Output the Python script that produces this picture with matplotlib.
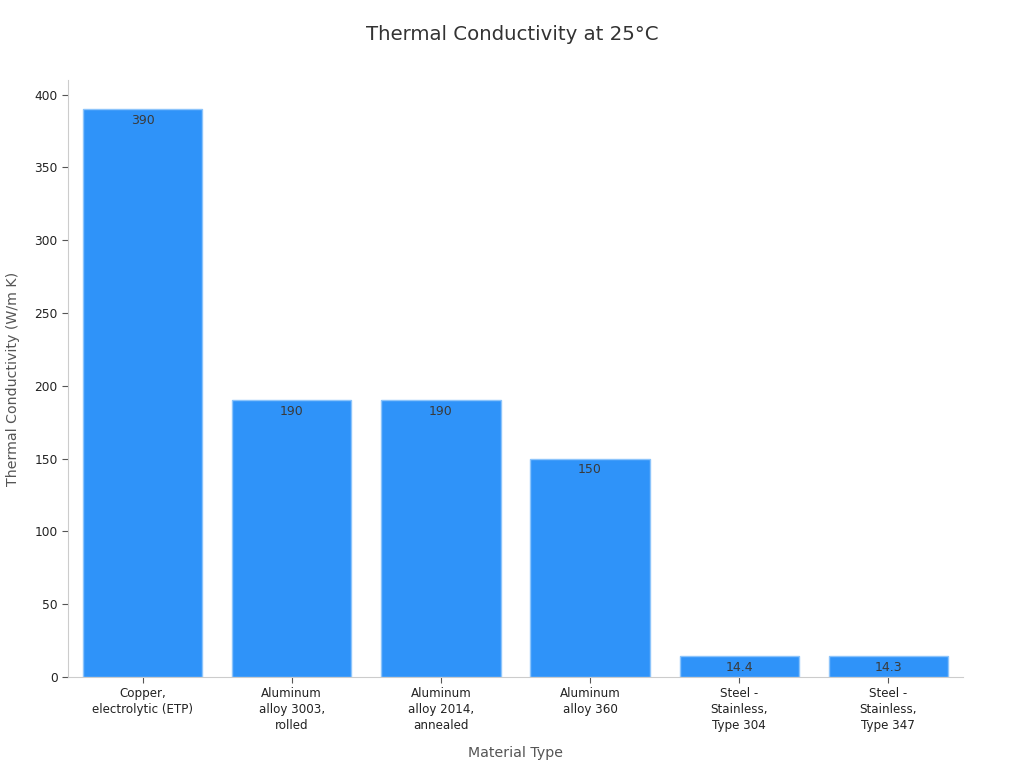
import matplotlib
matplotlib.use("Agg")
import matplotlib.pyplot as plt

categories = ["Copper,\nelectrolytic (ETP)", "Aluminum\nalloy 3003,\nrolled",
              "Aluminum\nalloy 2014,\nannealed", "Aluminum\nalloy 360",
              "Steel -\nStainless,\nType 304", "Steel -\nStainless,\nType 347"]
values = [390, 190, 190, 150, 14.4, 14.3]
value_labels = ["390", "190", "190", "150", "14.4", "14.3"]

plt.rcParams['font.family'] = ['DejaVu Sans']
fig = plt.figure(figsize=(10.24, 7.68), dpi=100)
ax = fig.add_axes([0.0664, 0.1185, 0.874, 0.7773])

x = list(range(len(categories)))
bars = ax.bar(x, values, width=0.8, color='#2F93F9', edgecolor='#8CC4FB', linewidth=1)
for xi, v, lab in zip(x, values, value_labels):
    ax.annotate(lab, (xi, v), xytext=(0, -3.5), textcoords='offset points',
                ha='center', va='top', fontsize=9, color='#3a3a3a')

ax.set_xlim(-0.5, 5.5)
ax.set_ylim(0, 410)
ax.set_yticks([0, 50, 100, 150, 200, 250, 300, 350, 400])
ax.set_xticks(x)
ax.set_xticklabels(categories, fontsize=8.6, color='#222222', linespacing=1.3)
ax.tick_params(axis='y', labelsize=8.8, colors='#222222')
ax.tick_params(axis='both', color='#555555', length=4)
for s in ['top', 'right']:
    ax.spines[s].set_visible(False)
for s in ['left', 'bottom']:
    ax.spines[s].set_color('#cccccc')

ax.set_xlabel("Material Type", fontsize=10.2, color='#555555', labelpad=10)
ax.set_ylabel("Thermal Conductivity (W/m K)", fontsize=10.2, color='#555555', labelpad=10)
fig.suptitle("Thermal Conductivity at 25°C", fontsize=14.2, color='#333333', y=0.968)

fig.savefig("out.png", dpi=100)
